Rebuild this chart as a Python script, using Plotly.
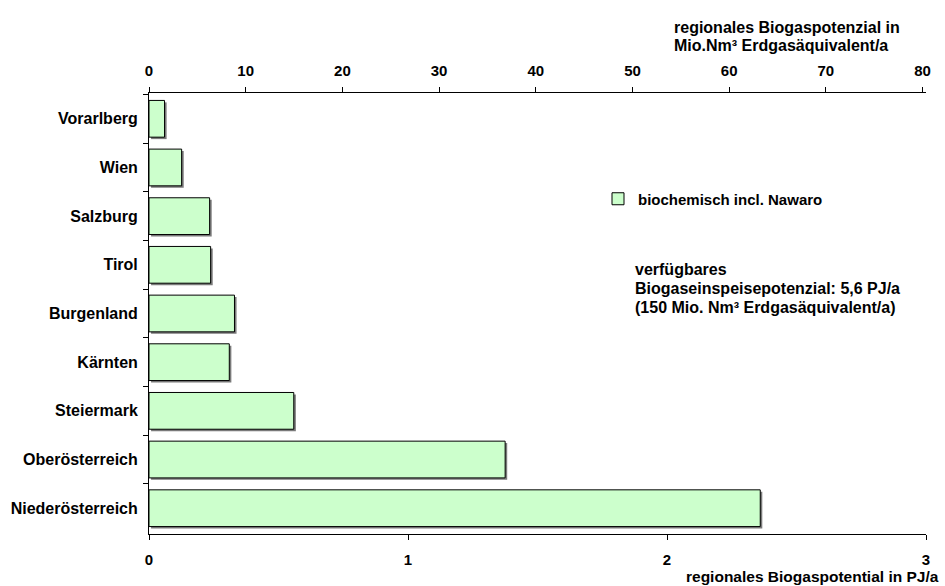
import plotly.graph_objects as go

# Regional biogas potential (biochemical incl. energy crops), PJ per year
regions = [
    "Vorarlberg", "Wien", "Salzburg", "Tirol", "Burgenland",
    "Kärnten", "Steiermark", "Oberösterreich", "Niederösterreich",
]
potential_pj = [0.06, 0.126, 0.234, 0.238, 0.33, 0.31, 0.559, 1.375, 2.36]

series_name = "biochemisch incl. Nawaro"

# Total feed-in potential used to relate PJ to Mio. Nm³ natural-gas equivalent
total_pj = 5.6
total_mio_nm3 = 150
mio_per_pj = total_mio_nm3 / total_pj

pj_ticks = [0, 1, 2, 3]
mio_ticks = [0, 10, 20, 30, 40, 50, 60, 70, 80]

FONT = "Liberation Sans, Arial, sans-serif"
BAR_WIDTH = 0.755
SHADOW_DY = 0.04      # in category units
SHADOW_DX = 0.008     # in PJ

fig = go.Figure()

# drop shadow under each bar
fig.add_trace(go.Bar(
    y=regions, x=potential_pj, base=SHADOW_DX, orientation="h",
    width=BAR_WIDTH, offset=-BAR_WIDTH / 2 + SHADOW_DY,
    marker=dict(color="#7a7a7a", line=dict(width=0)),
    showlegend=False, hoverinfo="skip",
))

fig.add_trace(go.Bar(
    y=regions, x=potential_pj, orientation="h", name=series_name,
    width=BAR_WIDTH, offset=-BAR_WIDTH / 2,
    marker=dict(color="#CCFFCC", line=dict(color="black", width=1)),
))

# same values expressed in Mio. Nm³, carried on the top axis (markers hidden)
fig.add_trace(go.Scatter(
    y=regions, x=[v * mio_per_pj for v in potential_pj], xaxis="x2",
    mode="markers", marker=dict(opacity=0), showlegend=False, hoverinfo="skip",
))

fig.update_layout(
    width=945, height=586,
    margin=dict(l=149, r=19, t=93, b=52),
    paper_bgcolor="white", plot_bgcolor="white",
    font=dict(family=FONT, size=15, color="black", weight="bold"),
    barmode="overlay",
    showlegend=True,
    legend=dict(
        x=(598 - 149) / 777, y=(534 - 199) / 441,
        xanchor="left", yanchor="middle",
        bgcolor="rgba(0,0,0,0)", borderwidth=0,
        font=dict(family=FONT, size=15, color="black", weight="bold"),
    ),
    xaxis=dict(
        range=[0, 3], tickvals=pj_ticks, showgrid=False, zeroline=False,
        showline=True, linecolor="black", linewidth=1,
        ticks="outside", ticklen=5, tickcolor="black",
        ticklabelstandoff=7,
        tickfont=dict(family=FONT, size=15, weight="bold"),
    ),
    xaxis2=dict(
        overlaying="x", side="top", anchor="y",
        range=[0, 3 * mio_per_pj], tickvals=mio_ticks,
        showgrid=False, zeroline=False,
        showline=True, linecolor="black", linewidth=1,
        ticks="outside", ticklen=5, tickcolor="black",
        ticklabelstandoff=5,
        tickfont=dict(family=FONT, size=15, weight="bold"),
    ),
    yaxis=dict(
        autorange="reversed", showgrid=False, zeroline=False,
        showline=True, linecolor="black", linewidth=1,
        ticks="outside", ticklen=5, tickcolor="black",
        tickson="boundaries", ticklabelstandoff=7,
        tickfont=dict(family=FONT, size=16, weight="bold"),
    ),
)

top_font = dict(family=FONT, size=16, color="black", weight="bold")
bottom_font = dict(family=FONT, size=15.5, color="black", weight="bold")
note_font = dict(family=FONT, size=16, color="black", weight="bold")


def px_x(px):
    return (px - 149) / 777


def px_y(py):
    return (534 - py) / 441


annotations = [
    dict(text="regionales Biogaspotenzial in", x=px_x(673), y=px_y(27), font=top_font),
    dict(text="Mio.Nm³ Erdgasäquivalent/a", x=px_x(673), y=px_y(45), font=top_font),
    dict(text="regionales Biogaspotential in PJ/a", x=px_x(685), y=px_y(576), font=bottom_font),
    dict(text="verfügbares", x=px_x(634), y=px_y(269), font=note_font),
    dict(text="Biogaseinspeisepotenzial: 5,6 PJ/a", x=px_x(634), y=px_y(288), font=note_font),
    dict(text="(150 Mio. Nm³ Erdgasäquivalent/a)", x=px_x(634), y=px_y(307), font=note_font),
]
for a in annotations:
    fig.add_annotation(xref="paper", yref="paper", xanchor="left", yanchor="middle",
                       showarrow=False, borderpad=0, **a)

fig.write_html("out.html")
